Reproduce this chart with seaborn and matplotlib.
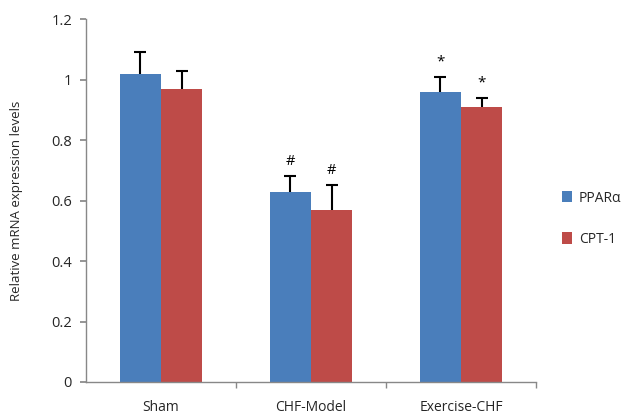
import matplotlib
matplotlib.use("Agg")
import matplotlib.pyplot as plt
import seaborn as sns
import pandas as pd
import numpy as np

categories = ["Sham", "CHF-Model", "Exercise-CHF"]
series = ["PPARα", "CPT-1"]
ppar_vals = [1.02, 0.63, 0.96]
ppar_err = [0.07, 0.05, 0.05]
cpt_vals = [0.97, 0.57, 0.91]
cpt_err = [0.06, 0.08, 0.03]
ppar_marks = ["", "#", "*"]
cpt_marks = ["", "#", "*"]
yticks = [0, 0.2, 0.4, 0.6, 0.8, 1, 1.2]
ytick_labels = ["0", "0.2", "0.4", "0.6", "0.8", "1", "1.2"]
colors = ["#4A7EBB", "#BE4B48"]

sns.set_theme(style="white")
plt.rcParams["font.family"] = ["Open Sans", "DejaVu Sans"]

df = pd.DataFrame({
    "group": categories * 2,
    "series": [series[0]] * 3 + [series[1]] * 3,
    "value": ppar_vals + cpt_vals,
})

fig = plt.figure(figsize=(6.22, 4.17), dpi=100)
ax = fig.add_axes([0.138, 0.084, 0.724, 0.870])

sns.barplot(data=df, x="group", y="value", hue="series", palette=colors,
            width=0.55, saturation=1, errorbar=None, ax=ax, legend=True,
            edgecolor="none")

errs = [ppar_err, cpt_err]
marks = [ppar_marks, cpt_marks]
for cont, e, m in zip(ax.containers, errs, marks):
    xs = [b.get_x() + b.get_width() / 2 for b in cont]
    hs = [b.get_height() for b in cont]
    eb = ax.errorbar(xs, hs, yerr=[np.zeros(len(e)), e], fmt="none", ecolor="black",
                     elinewidth=1.5, capsize=4, capthick=1.5)
    caplines = eb[1]
    if len(caplines) == 2:
        caplines[0].set_visible(False)
    for x, h, ee, mk in zip(xs, hs, e, m):
        if mk:
            ax.text(x, h + ee + 0.025, mk, ha="center", va="bottom",
                    fontsize=11 if mk == "*" else 10.5, color="black")

ax.set_ylim(0, 1.2)
ax.set_xlim(-0.5, 2.5)
ax.set_yticks(yticks)
ax.set_yticklabels(ytick_labels, fontsize=10.5)
ax.set_xlabel("")
ax.set_ylabel("Relative mRNA expression levels", fontsize=9.5, labelpad=20)
ax.tick_params(axis="x", length=0, labelsize=10, pad=13)
ax.tick_params(axis="y", length=4, direction="out", color="#888888", left=True, pad=6)
ax.set_xticks([0.5, 1.5, 2.5], minor=True)
ax.tick_params(axis="x", which="minor", length=4, direction="out", color="#888888", bottom=True)

for s in ["top", "right"]:
    ax.spines[s].set_visible(False)
for s in ["left", "bottom"]:
    ax.spines[s].set_color("#888888")
    ax.spines[s].set_linewidth(1.0)

leg = ax.legend(loc="center left", bbox_to_anchor=(1.03, 0.45), frameon=False,
                fontsize=10, handlelength=0.7, handleheight=0.9, handletextpad=0.5,
                labelspacing=1.9, title=None)

fig.savefig("out.png", dpi=100, facecolor="white")
